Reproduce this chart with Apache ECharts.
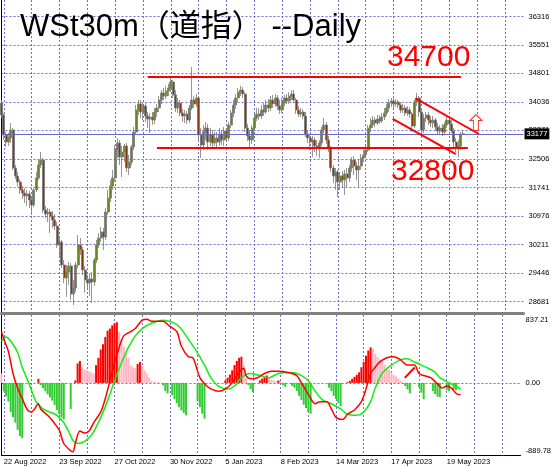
<!DOCTYPE html>
<html><head><meta charset="utf-8">
<script src="https://cdn.jsdelivr.net/npm/echarts@6/dist/echarts.min.js"></script>
<style>html,body{margin:0;padding:0;background:#fff}#c{width:554px;height:467px}</style>
</head><body><div id="c"></div>
<script>
// ---- data ----
const opens = [34004,33682,33146,32959,33066,33280,32262,32048,31887,31673,
31592,31512,31566,31405,31271,31673,31994,32343,32477,31137,
31030,31083,30976,30869,30708,30199,30280,29664,29316,29476,
29637,28887,29047,29664,30199,30065,29530,29262,29181,29289,
29208,29798,30199,30387,30548,30414,31083,31458,31780,31994,
32745,32932,32557,32691,32851,32262,32423,32825,33227,33816,
33977,33762,33923,33655,33575,33629,33548,33762,33870,34084,
34272,34191,34325,34406,34566,34218,33870,34004,33736,33655,
33709,33548,33870,34084,33977,34138,33146,32878,33227,33334,
32959,33146,32932,33066,32959,33173,33012,33253,33066,33414,
33736,33950,34138,34298,34352,34245,33334,33119,33012,33334,
33602,33709,33655,33816,33762,33950,33870,34084,33977,34138,
33923,33816,34004,34138,34057,34191,34245,34084,33816,33709,
33762,33655,33173,33066,32959,33012,32851,32798,32932,33280,
33414,33012,32798,32262,32048,32155,31887,32048,31941,32101,
31994,32262,32477,32316,32209,32316,32530,32611,32745,33334,
33414,33548,33468,33575,33521,33629,33736,33870,34004,34057,
33977,34030,33950,33816,33870,33736,33816,33709,33387,34030,
34138,33762,33280,33602,33682,33548,33468,33548,33361,33253,
33334,33227,33414,33548,33441,33253,32959,32798,32851,33173];
const closes = [33682,33146,32959,33066,33280,32262,32048,31887,31673,31592,
31512,31566,31405,31271,31673,31994,32343,32477,31137,31030,
31083,30976,30869,30708,30199,30280,29664,29316,29476,29637,
28887,29047,29664,30199,30065,29530,29262,29181,29289,29208,
29798,30199,30387,30548,30414,31083,31458,31780,31994,32745,
32932,32557,32691,32851,32262,32423,32825,33227,33816,33977,
33762,33923,33655,33575,33629,33548,33762,33870,34084,34272,
34191,34325,34406,34566,34218,33870,34004,33736,33655,33709,
33548,33870,34084,33977,34138,33146,32878,33227,33334,32959,
33146,32932,33066,32959,33173,33012,33253,33066,33414,33736,
33950,34138,34298,34352,34245,33334,33119,33012,33334,33602,
33709,33655,33816,33762,33950,33870,34084,33977,34138,33923,
33816,34004,34138,34057,34191,34245,34084,33816,33709,33762,
33655,33173,33066,32959,33012,32851,32798,32932,33280,33414,
33012,32798,32262,32048,32155,31887,32048,31941,32101,31994,
32262,32477,32316,32209,32316,32530,32611,32745,33334,33414,
33548,33468,33575,33521,33629,33736,33870,34004,34057,33977,
34030,33950,33816,33870,33736,33816,33709,33387,34030,34138,
33762,33280,33602,33682,33548,33468,33548,33361,33253,33334,
33227,33414,33548,33441,33253,32959,32798,32851,33173,33177];
const highs = [34084,33736,33227,33200,33468,33334,32343,32155,31967,31780,
31726,31673,31646,31512,31726,32155,32477,32691,32530,31244,
31191,31164,31110,31030,30816,30387,30333,29798,29664,29744,
29717,29262,29744,30467,30387,30146,29637,29396,29423,29476,
29851,30333,30521,30682,30655,31191,31673,31941,32209,32878,
33066,33012,32851,32905,32932,32611,32878,33361,33950,34084,
34084,34030,34004,33762,33736,33762,33870,33977,34191,34352,
34406,34459,34513,34673,34620,34352,34138,34084,33843,33816,
33789,33950,34968,34191,34245,34191,33334,33414,33495,33441,
33334,33280,33227,33227,33334,33280,33361,33334,33495,33816,
34084,34245,34406,34459,34432,34298,33441,33280,33414,33736,
33870,33870,33950,34004,34084,34111,34191,34218,34245,34218,
34084,34138,34218,34245,34298,34352,34352,34138,33923,33870,
33843,33762,33280,33173,33119,33093,33012,33012,33361,33602,
33495,33119,32851,32343,32262,32209,32155,32182,32209,32262,
32343,32557,32584,32423,32477,32637,32745,32851,33414,33602,
33655,33629,33682,33682,33736,33870,33977,34111,34138,34138,
34111,34084,34030,33977,33950,33923,33896,33762,34084,34272,
34191,33816,33709,33762,33762,33655,33655,33602,33468,33414,
33441,33495,33629,33629,33548,33334,33066,33012,33227,33253];
const lows = [33602,33012,32825,32851,32932,32209,31967,31780,31566,31432,
31325,31244,31191,31003,31217,31619,31941,32262,31057,30923,
30816,30521,30655,30601,30119,29878,29583,29181,28806,29128,
28726,28592,28940,29583,29931,29396,28914,28994,28833,28646,
29101,29717,30119,30280,30065,30333,31003,31351,31673,31887,
32530,32343,32021,32423,32155,32075,32343,32745,33146,33682,
33602,33548,33495,33334,33200,33414,33441,33629,33762,33977,
34084,34111,34191,34298,34138,33762,33736,33655,33495,33468,
33441,33468,33816,33870,33896,33012,32530,32745,33012,32745,
32851,32798,32851,32825,32851,32878,32851,32959,32985,33334,
33629,33843,34030,34191,34138,33227,32985,32798,32905,33253,
33521,33548,33575,33655,33709,33762,33789,33870,33896,33816,
33709,33736,33923,33977,33977,34084,34004,33709,33629,33629,
33575,33093,32932,32745,32557,32691,32584,32530,32851,33200,
32905,32691,32155,31860,31673,31485,31673,31726,31539,31726,
31887,32155,32075,31941,31753,32209,32423,32530,32691,33227,
33334,33361,33414,33441,33468,33548,33655,33762,33896,33870,
33896,33870,33736,33736,33655,33655,33602,33227,33334,33923,
33629,33093,33200,33495,33414,33361,33334,33253,33146,33173,
33119,33146,33334,33334,33200,32825,32691,32557,32745,33146];
const priceTicks = [36316,35551,34801,34036,33271,32506,31741,30976,30211,29446,28681];
const lastPrice = 33177;
const dateLabels = ['22 Aug 2022','23 Sep 2022','27 Oct 2022','30 Nov 2022','5 Jan 2023','8 Feb 2023','14 Mar 2023','17 Apr 2023','19 May 2023'];
const macdHist = [116,
-103,-168,-232,-361,-425,-490,-580,-657,-683,
-600,-500,-400,-300,-200,-100,
50,
-26,-64,-103,-142,-180,-219,-271,-335,-387,-425,-451,
-380,-300,-322,-200,30,240,270,
193,168,155,142,129,116,
219,309,412,477,567,644,670,709,735,748,
632,541,451,374,309,219,193,180,
232,258,
206,155,116,64,26,13,
10,8,5,
-30,-100,-130,
-110,
-150,-200,-250,-300,-340,-370,-400,
-330,-260,-200,-150,
-230,-300,-380,-440,
-380,-320,-260,-200,-150,-100,-60,-20,
26,64,103,155,219,271,309,322,
219,64,
-26,-77,-116,
-60,-20,
30,52,70,90,
60,40,30,20,
30,20,
-30,-50,
-30,-10,
-40,-60,-100,-160,-210,-270,-310,-360,-380,
-340,-300,-250,-200,-150,-100,-40,
-60,-100,-160,-200,-250,-290,
-200,-100,
10,25,50,75,100,130,193,258,335,400,438,
425,360,320,290,260,225,190,160,130,100,80,55,30,10,
-40,-80,-130,
-90,-60,-30,
-50,-120,-200,
-160,-120,-80,
-100,-140,-170,-175,
-130,-80,
-90,-100,
-70,
-80,-90,
-60,-40];
const macdLine = [[0,632],[1,541],[3,387],[5,116],[7,-64],[9,-193],[11,-322],[13,-361],[14,-335],[16,-258],[17,-322],[20,-400],[22,-464],[25,-580],[27,-748],[30,-838],[31,-851],[32,-748],[34,-593],[36,-619],[38,-593],[40,-490],[43,-361],[45,-193],[47,26],[49,245],[51,438],[53,580],[56,632],[58,670],[61,773],[63,786],[65,761],[68,761],[70,761],[73,696],[76,632],[78,451],[81,322],[83,309],[86,64],[89,-39],[91,-77],[94,-103],[97,-77],[100,0],[103,129],[105,180],[106,90],[108,52],[111,64],[114,116],[117,142],[120,142],[124,129],[128,90],[130,0],[133,-142],[136,-258],[138,-232],[141,-232],[143,-322],[145,-425],[148,-451],[150,-387],[153,-335],[156,-232],[158,-77],[160,116],[162,193],[164,258],[167,309],[170,322],[173,284],[176,219],[179,219],[181,116],[183,90],[186,64],[189,-13],[191,-64],[193,-39],[195,-64],[198,-142],[199,-142]];
const signalLine = [[0,516],[2,567],[4,516],[7,374],[9,193],[12,-13],[15,-232],[18,-322],[21,-361],[24,-400],[27,-490],[29,-593],[31,-709],[33,-748],[36,-722],[39,-645],[42,-490],[45,-296],[47,-142],[49,26],[52,245],[55,438],[58,580],[61,670],[65,735],[70,773],[74,748],[77,696],[80,580],[84,412],[88,219],[91,52],[94,-39],[98,-77],[101,-39],[104,64],[108,116],[112,90],[116,64],[120,116],[126,129],[130,90],[133,26],[136,-103],[139,-206],[143,-258],[147,-322],[150,-387],[154,-400],[157,-361],[160,-232],[162,-64],[165,116],[169,219],[173,284],[176,296],[179,258],[182,219],[185,180],[188,129],[190,64],[194,0],[197,-39],[199,-77]];
const macdMax = 837.21, macdMin = -889.78;
const resistance = 34700, support = 32800;
const resistanceSpan = [63, 198];
const supportSpan = [67, 201];
const channelUpper = [[178.5, 34130], [205.8, 33173]];
const channelLower = [[168.6, 33575], [195.8, 32637]];
const macdDiverge = [[174.8, 62], [179.1, 189]];
const breakoutArrow = [[204.5, 33481]];

// ---- chart ----
const N = 226;
const cats = Array.from({length: N}, (_, i) => i);
const candles = opens.map((o, i) => [o, closes[i], lows[i], highs[i]]);
const GRID = '#7070cc';
const FONT = '"Liberation Sans", Arial, sans-serif';
const gridLine = {show: true, interval: (i) => (i - 1) % 12 === 0, lineStyle: {color: GRID, type: [2, 2], width: 1}};
const histData = macdHist.map((v, i) => {
  const prev = i > 0 ? macdHist[i - 1] : Infinity;
  let c;
  if (v >= 0) c = v >= prev ? '#ff0000' : '#ffb6c1';
  else c = v <= prev ? '#33cc33' : 'rgba(0,0,0,0)';
  return {value: v, itemStyle: {color: c}};
});
const red = '#ff0000';
const chart = echarts.init(document.getElementById('c'), null, {renderer: 'canvas'});
chart.setOption({
  animation: false,
  backgroundColor: '#ffffff',
  title: {
    text: 'WSt30m（道指） --Daily', left: 20, top: 12, padding: 0,
    textStyle: {fontSize: 31, fontWeight: 'normal', color: '#000', fontFamily: '"Liberation Sans", "Noto Sans CJK SC", sans-serif'}
  },
  grid: [
    {left: 1.48, right: 30.5, top: 0, height: 313.5},
    {left: 1.48, right: 30.5, top: 315, height: 140}
  ],
  xAxis: [
    {gridIndex: 0, type: 'category', data: cats, boundaryGap: false,
     axisLine: {show: true, onZero: false, lineStyle: {color: '#808080', width: 3}},
     axisTick: {show: false}, axisLabel: {show: false}, splitLine: gridLine},
    {gridIndex: 1, type: 'category', data: cats, boundaryGap: false,
     axisLine: {show: true, onZero: false, lineStyle: {color: '#000', width: 1}},
     axisTick: {show: false},
     axisLabel: {show: true, interval: (i) => (i - 1) % 24 === 0,
       formatter: (v, i) => dateLabels[(i - 1) / 24] || '', align: 'left',
       fontSize: 7.5, color: '#000', margin: 3, fontFamily: FONT},
     splitLine: gridLine},
    {gridIndex: 0, type: 'value', min: 0, max: N - 1, show: false},
    {gridIndex: 1, type: 'value', min: 0, max: N - 1, show: false}
  ],
  yAxis: [
    {gridIndex: 0, type: 'value', position: 'right', min: 28364, max: 36763, scale: true,
     axisLine: {show: true, lineStyle: {color: '#000', width: 1}},
     axisTick: {show: false, customValues: priceTicks},
     axisLabel: {customValues: priceTicks, fontSize: 7.5, color: '#000', margin: 5, fontFamily: FONT,
       formatter: (v) => String(Math.round(v)), showMinLabel: true, showMaxLabel: true},
     splitLine: {show: true, lineStyle: {color: GRID, type: [2, 2], width: 1}}},
    {gridIndex: 1, type: 'value', position: 'right', min: macdMin, max: macdMax,
     axisLine: {show: true, lineStyle: {color: '#000', width: 1}},
     axisTick: {show: false, customValues: [0]},
     axisLabel: {customValues: [macdMin * 0.94, 0, macdMax * 0.93], fontSize: 7.5, color: '#000', margin: 5, fontFamily: FONT,
       formatter: (v) => (v > 1 ? macdMax.toFixed(2) : v < -1 ? macdMin.toFixed(2) : '0.00')},
     splitLine: {show: true, lineStyle: {color: GRID, type: [2, 2], width: 1}}}
  ],
  series: [
    {type: 'candlestick', xAxisIndex: 0, yAxisIndex: 0, data: candles, barWidth: 2.5,
     itemStyle: {color: '#66861f', color0: '#8b3510', borderColor: '#7a7a7a', borderColor0: '#7a7a7a', borderWidth: 0.8},
     markLine: {silent: true, symbol: 'none', animation: false,
       data: [{yAxis: lastPrice}],
       lineStyle: {color: '#6a6ac4', type: 'solid', width: 1},
       label: {show: true, position: 'end', formatter: String(lastPrice), backgroundColor: '#000', color: '#fff',
         fontSize: 7.5, fontFamily: FONT, padding: [2, 2, 1, 2], distance: 1}}},
    {type: 'line', xAxisIndex: 2, yAxisIndex: 0, symbol: 'none', silent: true, z: 5,
     data: [[resistanceSpan[0], resistance], [resistanceSpan[1], resistance]], lineStyle: {color: red, width: 2}},
    {type: 'line', xAxisIndex: 2, yAxisIndex: 0, symbol: 'none', silent: true, z: 5,
     data: [[supportSpan[0], support], [supportSpan[1], support]], lineStyle: {color: red, width: 2}},
    {type: 'line', xAxisIndex: 2, yAxisIndex: 0, symbol: 'none', silent: true, z: 5,
     data: channelUpper, lineStyle: {color: red, width: 2}},
    {type: 'line', xAxisIndex: 2, yAxisIndex: 0, symbol: 'none', silent: true, z: 5,
     data: channelLower, lineStyle: {color: red, width: 2}},
    {type: 'scatter', xAxisIndex: 2, yAxisIndex: 0, silent: true, z: 6, data: breakoutArrow,
     symbol: 'path://M6,0 L12,6 L8.5,6 L8.5,16 L3.5,16 L3.5,6 L0,6 Z', symbolSize: [12, 16],
     itemStyle: {color: '#ffffff', borderColor: red, borderWidth: 1}},
    {type: 'bar', xAxisIndex: 1, yAxisIndex: 1, data: histData, barWidth: 2, silent: true},
    {type: 'line', xAxisIndex: 3, yAxisIndex: 1, data: macdLine, symbol: 'none', smooth: 0.3, silent: true, z: 4,
     lineStyle: {color: red, width: 1.5}},
    {type: 'line', xAxisIndex: 3, yAxisIndex: 1, data: signalLine, symbol: 'none', smooth: 0.3, silent: true, z: 3,
     lineStyle: {color: '#11ee11', width: 1.5}},
    {type: 'line', xAxisIndex: 3, yAxisIndex: 1, data: macdDiverge, symbol: 'none', silent: true, z: 5,
     lineStyle: {color: red, width: 2}}
  ],
  graphic: [
    {type: 'text', left: 387, top: 43, z: 10, silent: true,
     style: {text: String(resistance), fill: red, font: '30px "Liberation Sans", Arial, sans-serif'}},
    {type: 'text', left: 391, top: 157, z: 10, silent: true,
     style: {text: String(support), fill: red, font: '30px "Liberation Sans", Arial, sans-serif'}}
  ]
});
</script></body></html>
